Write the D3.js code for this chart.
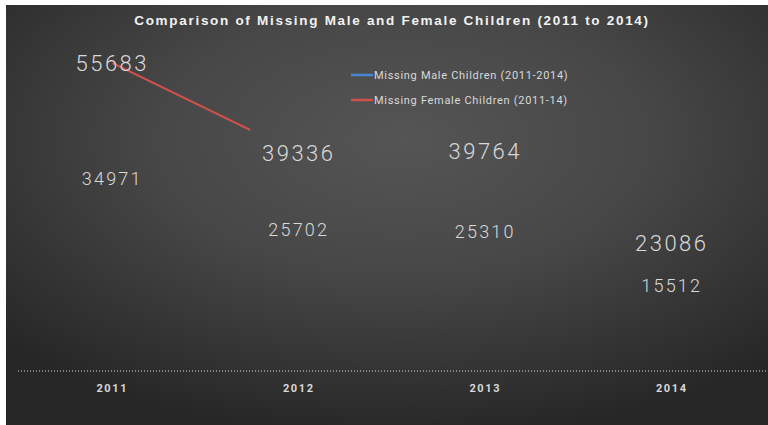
<!DOCTYPE html>
<html>
<head>
<meta charset="utf-8">
<script src="https://cdn.jsdelivr.net/npm/d3@7"></script>
<style>
  body { margin: 0; background: #fff; }
  svg { display: block; }
</style>
</head>
<body>
<div id="chart"></div>
<script>
var years = ["2011", "2012", "2013", "2014"],
    male = [55683, 39336, 39764, 23086],
    female = [34971, 25702, 25310, 15512],
    legendLabels = ["Missing Male Children (2011-2014)", "Missing Female Children (2011-14)"];

var width = 768, height = 425;

var svg = d3.select("#chart").append("svg")
    .attr("width", width)
    .attr("height", height);

var defs = svg.append("defs");
var grad = defs.append("radialGradient")
    .attr("id", "bg")
    .attr("cx", "52%").attr("cy", "32%").attr("r", "72%");
grad.append("stop").attr("offset", "0%").attr("stop-color", "#555555");
grad.append("stop").attr("offset", "45%").attr("stop-color", "#474747");
grad.append("stop").attr("offset", "100%").attr("stop-color", "#262626");

svg.append("rect")
    .attr("x", 6).attr("y", 5)
    .attr("width", width - 6).attr("height", height - 5)
    .attr("fill", "url(#bg)");

var x = d3.scaleBand()
    .domain(years)
    .range([19, 765]);

var y = d3.scaleLinear()
    .domain([0, 55683])
    .range([371, 63]);

var cx = function(i) { return x(years[i]) + x.bandwidth() / 2; };

// title
svg.append("text")
    .attr("x", 392).attr("y", 25)
    .attr("text-anchor", "middle")
    .attr("fill", "#f2f2f2")
    .style("font-family", "Liberation Sans, Arial, sans-serif")
    .style("font-weight", "bold")
    .style("font-size", "13.5px")
    .style("letter-spacing", "1.7px")
    .text("Comparison of Missing Male and Female Children (2011 to 2014)");

// baseline (dotted)
svg.append("line")
    .attr("x1", 18).attr("x2", width)
    .attr("y1", y(0)).attr("y2", y(0))
    .attr("stroke", "#d9d9d9")
    .attr("stroke-width", 1)
    .attr("stroke-dasharray", "1,2");

// x axis labels
svg.append("g").selectAll("text")
    .data(years)
  .enter().append("text")
    .attr("x", function(d) { return x(d) + x.bandwidth() / 2; })
    .attr("y", 392)
    .attr("text-anchor", "middle")
    .attr("fill", "#d9d9d9")
    .style("font-family", "Roboto, sans-serif")
    .style("font-weight", "bold")
    .style("font-size", "11px")
    .style("letter-spacing", "1.6px")
    .text(function(d) { return d; });

// partially drawn line (only the first stretch shows)
var clipEnd = cx(0) + (cx(1) - cx(0)) * 0.74;
defs.append("clipPath").attr("id", "lineclip")
  .append("rect")
    .attr("x", cx(0)).attr("y", 0)
    .attr("width", clipEnd - cx(0)).attr("height", height);

var line = d3.line()
    .x(function(d, i) { return cx(i); })
    .y(function(d) { return y(d); });

svg.append("path")
    .datum(male)
    .attr("d", line)
    .attr("fill", "none")
    .attr("stroke", "#d0504c")
    .attr("stroke-width", 2)
    .attr("clip-path", "url(#lineclip)");

// value labels
svg.append("g").selectAll("text")
    .data(male)
  .enter().append("text")
    .attr("x", function(d, i) { return cx(i); })
    .attr("y", function(d) { return y(d) + 8; })
    .attr("text-anchor", "middle")
    .attr("fill", "#d9d9d9")
    .style("font-family", "Roboto, sans-serif")
    .style("font-weight", "300")
    .style("font-size", "22px")
    .style("letter-spacing", "2.5px")
    .text(function(d) { return d; });

svg.append("g").selectAll("text")
    .data(female)
  .enter().append("text")
    .attr("x", function(d, i) { return cx(i); })
    .attr("y", function(d) { return y(d) + 7; })
    .attr("text-anchor", "middle")
    .attr("fill", "#d9d9d9")
    .style("font-family", "Roboto, sans-serif")
    .style("font-weight", "300")
    .style("font-size", "18px")
    .style("letter-spacing", "2.2px")
    .text(function(d) { return d; });

// legend
var legendColors = ["#4a86d0", "#d0504c"];
var legend = svg.append("g").selectAll("g")
    .data(legendLabels)
  .enter().append("g")
    .attr("transform", function(d, i) { return "translate(351," + (75 + i * 25) + ")"; });

legend.append("line")
    .attr("x1", 0).attr("x2", 22)
    .attr("stroke", function(d, i) { return legendColors[i]; })
    .attr("stroke-width", 2.5);

legend.append("text")
    .attr("x", 23).attr("y", 4)
    .attr("fill", "#d9d9d9")
    .style("font-family", "Roboto, sans-serif")
    .style("font-size", "11px")
    .style("letter-spacing", "0.7px")
    .text(function(d) { return d; });
</script>
</body>
</html>
